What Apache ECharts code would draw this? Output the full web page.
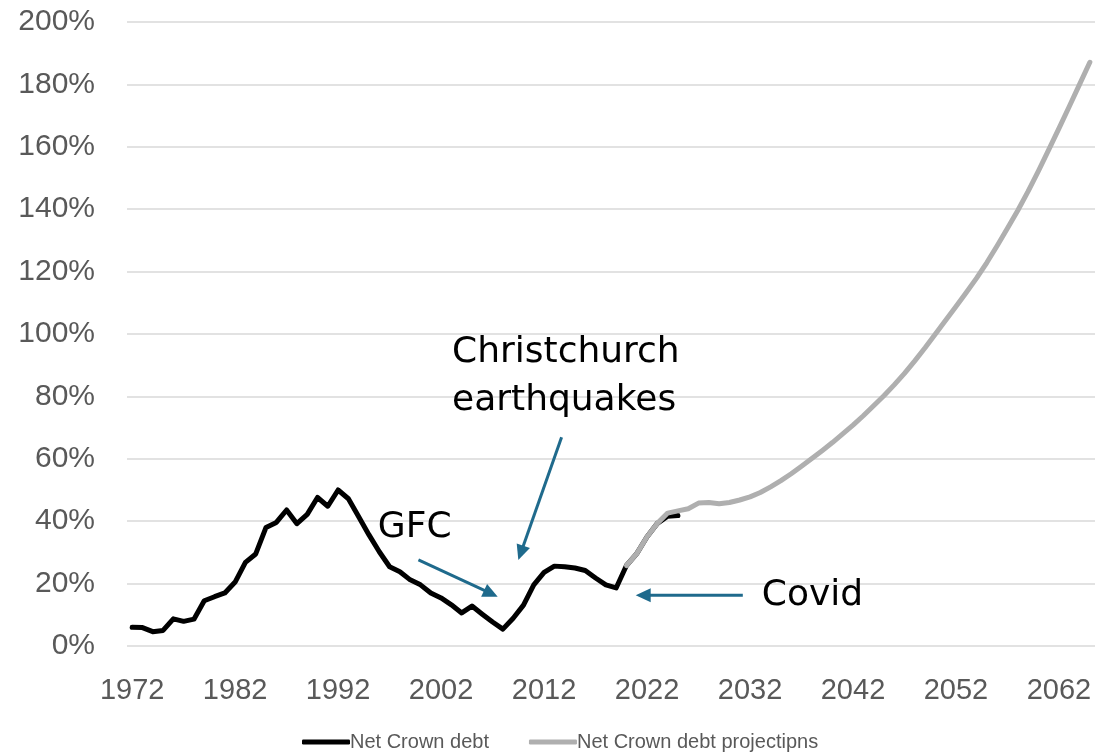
<!DOCTYPE html>
<html><head><meta charset="utf-8">
<script src="https://cdn.jsdelivr.net/npm/echarts@6/dist/echarts.min.js"></script>
<style>html,body{margin:0;padding:0;background:#fff}#c{width:1106px;height:752px}</style>
</head><body><div id="c"></div>
<script>
// Categories: years 1972..2065
const firstYear = 1972, lastYear = 2065;
const years = [];
for (let y = firstYear; y <= lastYear; y++) years.push(String(y));

// Net Crown debt (% of GDP), 1972..2025
const histDebt = [
  6.0, 5.9, 4.6, 5.0, 8.7, 7.9, 8.6, 14.5, 15.8, 17.0,   // 1972-1981
  20.5, 26.8, 29.5, 38.0, 39.6, 43.6, 39.2, 42.2, 47.6, 44.8, // 1982-1991
  50.0, 47.2, 41.4, 35.6, 30.2, 25.4, 23.8, 21.2, 19.6, 17.0, // 1992-2001
  15.4, 13.2, 10.6, 12.8, 10.2, 7.7, 5.4, 8.9, 13.1, 19.6,    // 2002-2011
  23.6, 25.6, 25.4, 25.0, 24.2, 21.8, 19.6, 18.6, 25.8, 29.6, // 2012-2021
  35.0, 39.3, 41.6, 41.8                                      // 2022-2025
];
// Net Crown debt projections, 2020..2065
const projStart = 2020;
const projDebt = [
  25.8, 29.6, 35.0, 39.3, 42.6, 43.3, 44.0, 45.8, 46.0, 45.6, // 2020-2029
  46.0, 46.8, 47.8, 49.2, 51.0, 53.0, 55.2, 57.6, 60.1, 62.6, // 2030-2039
  65.2, 68.0, 70.8, 73.8, 77.0, 80.2, 83.7, 87.4, 91.4, 95.6, // 2040-2049
  100.0, 104.4, 108.8, 113.3, 117.9, 122.9, 128.3, 133.9, 139.6, 145.7, // 2050-2059
  152.2, 159.0, 165.9, 172.9, 180.0, 187.1                    // 2060-2065
];
const yTicks = { min: 0, max: 200, interval: 20 };
const seriesNames = ['Net Crown debt', 'Net Crown debt projectipns'];

// Annotations in data coordinates [year, value]
const annoTexts = [
  { text: 'Christchurch', at: [2003.06, 93.9] },
  { text: 'earthquakes', at: [2003.06, 78.5] },
  { text: 'GFC', at: [1995.86, 37.8] },
  { text: 'Covid', at: [2033.14, 16.3] }
];
const annoArrows = [
  { from: [2013.7, 66.9], to: [2009.5, 27.6] },
  { from: [1999.8, 27.6], to: [2007.5, 15.8] },
  { from: [2031.3, 16.3], to: [2020.9, 16.3] }
];

const histData = years.map((y, i) => i < histDebt.length ? histDebt[i] : null);
const projOffset = projStart - firstYear;
const projData = years.map((y, i) => (i >= projOffset && i - projOffset < projDebt.length) ? projDebt[i - projOffset] : null);

const labelColor = '#595959';
const chart = echarts.init(document.getElementById('c'), null, { renderer: 'canvas' });
const option = {
  backgroundColor: '#ffffff',
  animation: false,
  grid: { left: 127, right: 11, top: 22, bottom: 106, containLabel: false },
  xAxis: [{
    type: 'category', data: years, boundaryGap: true,
    axisLine: { show: false }, axisTick: { show: false },
    axisLabel: { interval: 9, color: labelColor, fontSize: 29, fontFamily: 'Liberation Sans, Arial, sans-serif', margin: 30 },
    splitLine: { show: false }
  }, {
    type: 'value', min: firstYear - 0.5, max: lastYear + 0.5, show: false,
    splitLine: { show: false }, axisLine: { show: false }
  }],
  yAxis: {
    type: 'value', min: yTicks.min, max: yTicks.max, interval: yTicks.interval,
    axisLine: { show: false }, axisTick: { show: false },
    axisLabel: { formatter: '{value}%', color: labelColor, fontSize: 30, fontFamily: 'Liberation Sans, Arial, sans-serif', margin: 32 },
    splitLine: { show: true, lineStyle: { color: '#d9d9d9', width: 1.5 } }
  },
  legend: {
    data: seriesNames, left: 297, top: 727, icon: 'roundRect',
    itemWidth: 48, itemHeight: 5, itemGap: 40,
    textStyle: { color: labelColor, fontSize: 20, fontFamily: 'Liberation Sans, Arial, sans-serif', padding: [0, 0, 0, -5] }
  },
  series: [{
    name: seriesNames[0], type: 'line', data: histData, xAxisIndex: 0,
    showSymbol: false, symbol: 'none', connectNulls: false,
    itemStyle: { color: '#000000' },
    lineStyle: { color: '#000000', width: 5, cap: 'round', join: 'round' }, z: 2
  }, {
    name: seriesNames[1], type: 'line', data: projData, xAxisIndex: 0,
    showSymbol: false, symbol: 'none', connectNulls: false,
    itemStyle: { color: '#afafaf' },
    lineStyle: { color: '#afafaf', width: 5, cap: 'round', join: 'round' }, z: 3
  }]
};
chart.setOption(option);

function px(p) { return chart.convertToPixel({ xAxisIndex: 1, yAxisIndex: 0 }, p); }
const arrowColor = '#1f6a8c';
const graphics = [];
annoTexts.forEach(a => {
  const p = px(a.at);
  graphics.push({ type: 'text', x: p[0], y: p[1], z: 10,
    style: { text: a.text, fill: '#000000', fontSize: 36, fontFamily: 'DejaVu Sans, sans-serif', align: 'left', verticalAlign: 'middle' } });
});
annoArrows.forEach(a => {
  const p0 = px(a.from), p1 = px(a.to);
  const dx = p1[0] - p0[0], dy = p1[1] - p0[1], L = Math.hypot(dx, dy), ux = dx / L, uy = dy / L;
  const hl = 15, hw = 7;
  const bx = p1[0] - ux * hl, by = p1[1] - uy * hl;
  graphics.push({ type: 'line', z: 10, shape: { x1: p0[0], y1: p0[1], x2: bx + ux * 2, y2: by + uy * 2 }, style: { stroke: arrowColor, lineWidth: 3 } });
  graphics.push({ type: 'polygon', z: 10, shape: { points: [[p1[0], p1[1]], [bx - uy * hw, by + ux * hw], [bx + uy * hw, by - ux * hw]] }, style: { fill: arrowColor } });
});
chart.setOption({ graphic: graphics });
</script>
</body></html>
